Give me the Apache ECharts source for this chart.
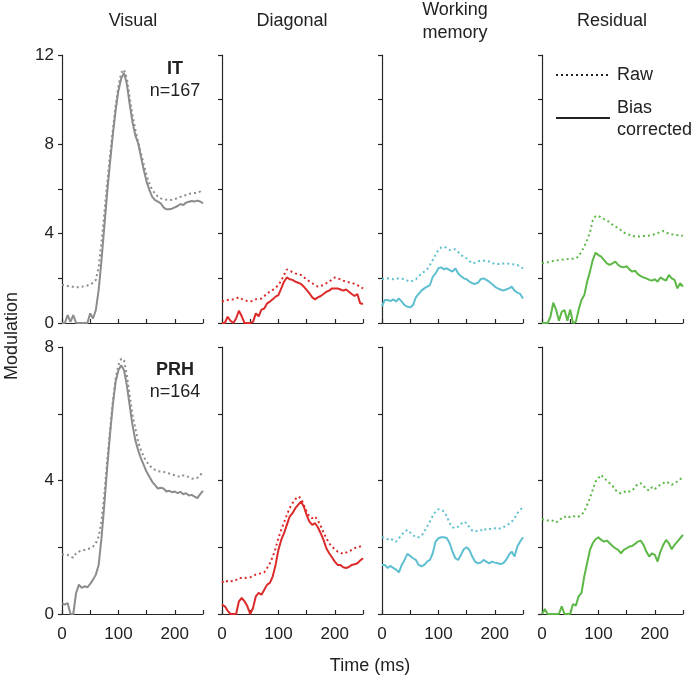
<!DOCTYPE html>
<html>
<head>
<meta charset="utf-8">
<script src="https://cdn.jsdelivr.net/npm/echarts@6/dist/echarts.min.js"></script>
<style>html,body{margin:0;padding:0;background:#fff}#c{width:694px;height:676px}</style>
</head>
<body>
<div id="c"></div>
<script>
// ---- data (time in ms, every 5 ms) ----
const T5 = Array.from({length: 51}, (_, i) => i * 5);
const panelTitles = ['Visual', 'Diagonal', 'Working\nmemory', 'Residual'];
const rowAreas = ['IT', 'PRH'];
const rowCounts = ['n=167', 'n=164'];
const rowYMax = [12, 8];
const xTickLabels = [0, 100, 200];

const itVisualRaw = [1.70,1.70,1.66,1.63,1.62,1.60,1.60,1.62,1.65,1.68,1.73,1.80,1.93,2.5,3.6,4.9,6.25,7.45,8.6,9.7,10.6,11.2,11.35,10.95,10.1,9.3,8.65,8.1,7.6,7.1,6.6,6.25,5.95,5.8,5.65,5.58,5.55,5.52,5.5,5.52,5.55,5.6,5.65,5.7,5.73,5.78,5.8,5.82,5.83,5.88,5.8];
const itVisualCor = [0,0,0.35,0.05,0.35,0,0,0,0,0,0.43,0.2,0.58,1.48,2.8,4.3,5.8,7.15,8.4,9.5,10.4,10.95,11.2,10.7,9.8,9.0,8.4,8.05,7.45,6.85,6.33,5.95,5.65,5.5,5.43,5.36,5.18,5.09,5.09,5.12,5.18,5.24,5.33,5.28,5.39,5.43,5.46,5.44,5.48,5.44,5.36];
const itDiagRaw = [0.96,1.0,1.03,1.05,1.06,1.1,1.15,1.08,1.03,0.98,0.96,1.0,1.06,1.08,1.1,1.2,1.33,1.4,1.48,1.58,1.7,1.9,2.15,2.4,2.34,2.28,2.22,2.18,2.15,2.05,1.96,1.86,1.78,1.7,1.63,1.66,1.7,1.78,1.85,1.95,2.04,2.0,1.96,1.9,1.85,1.82,1.8,1.75,1.7,1.62,1.55];
const itDiagCor = [0,0,0.28,0.1,0,0.2,0.55,0.3,0,0,0,0.05,0.43,0.3,0.6,0.65,0.88,0.96,1.06,1.18,1.25,1.55,1.85,2.04,1.96,1.93,1.85,1.8,1.75,1.63,1.48,1.33,1.15,1.06,1.15,1.21,1.3,1.4,1.45,1.55,1.55,1.55,1.5,1.45,1.5,1.4,1.3,1.21,1.3,0.88,0.85];
const itWmRaw = [1.96,1.98,2.0,1.98,1.96,1.98,2.0,1.98,1.96,1.9,1.85,1.9,1.96,2.08,2.22,2.3,2.4,2.6,2.82,3.05,3.27,3.38,3.42,3.35,3.27,3.28,3.3,3.18,3.04,2.98,2.9,2.78,2.67,2.7,2.75,2.8,2.79,2.78,2.75,2.7,2.64,2.64,2.64,2.66,2.67,2.65,2.64,2.62,2.6,2.52,2.45];
const itWmCor = [0.76,1.03,1.03,0.98,1.06,0.96,1.1,0.96,0.8,0.73,0.7,0.8,1.15,1.3,1.45,1.55,1.63,1.7,2.07,2.22,2.45,2.49,2.4,2.45,2.37,2.3,2.45,2.22,2.1,2.0,1.96,1.85,1.78,1.75,1.8,1.96,2.0,1.93,1.85,1.75,1.63,1.55,1.5,1.45,1.5,1.55,1.63,1.45,1.36,1.3,1.1];
const itResRaw = [2.67,2.7,2.72,2.75,2.78,2.8,2.82,2.83,2.85,2.86,2.87,2.88,2.9,2.97,3.2,3.42,3.72,4.05,4.6,4.78,4.8,4.72,4.65,4.6,4.5,4.4,4.32,4.25,4.15,4.05,4.0,3.95,3.9,3.87,3.87,3.88,3.9,3.9,3.92,3.95,3.97,4.02,4.08,4.12,4.05,4.0,3.97,3.95,3.93,3.93,3.9];
const itResCor = [0,0,0,0.28,0.91,0.6,0.1,0.5,0.58,0.1,0.6,0,0.05,0.6,1.03,1.25,1.85,2.3,2.82,3.15,3.04,2.97,2.82,2.67,2.6,2.67,2.75,2.6,2.52,2.49,2.55,2.4,2.3,2.34,2.19,2.1,2.04,2.0,1.93,1.9,1.96,1.85,2.04,1.96,1.9,2.15,2.0,1.93,1.55,1.78,1.63];

const prhVisualRaw = [1.79,1.78,1.77,1.72,1.69,1.82,1.87,1.9,1.92,1.94,1.97,2.02,2.12,2.32,2.77,3.57,4.56,5.46,6.35,7.05,7.45,7.65,7.6,7.15,6.55,5.96,5.56,5.16,4.91,4.71,4.56,4.46,4.36,4.32,4.28,4.27,4.26,4.23,4.21,4.18,4.16,4.13,4.11,4.15,4.14,4.1,4.06,4.05,4.08,4.16,4.26];
const prhVisualCor = [0.33,0.28,0.33,0,0,0.63,0.88,0.78,0.83,0.8,0.9,1.03,1.18,1.47,2.27,3.27,4.36,5.36,6.25,6.95,7.3,7.45,7.3,6.85,6.25,5.66,5.21,4.91,4.66,4.46,4.26,4.11,3.96,3.86,3.76,3.78,3.76,3.67,3.69,3.65,3.67,3.62,3.66,3.59,3.62,3.55,3.57,3.52,3.47,3.59,3.69];
const prhDiagRaw = [0.98,0.93,1.0,0.99,0.98,1.02,1.08,1.08,1.08,1.09,1.1,1.14,1.18,1.2,1.23,1.25,1.38,1.52,1.72,1.97,2.27,2.52,2.74,2.97,3.17,3.32,3.44,3.52,3.47,3.27,3.07,2.92,2.87,2.92,2.8,2.64,2.44,2.27,2.12,2.02,1.94,1.87,1.84,1.8,1.84,1.87,1.92,1.97,2.0,2.02,2.04];
const prhDiagCor = [0.28,0.23,0.1,0,0,0,0.38,0.48,0.38,0.23,0,0.18,0.53,0.63,0.58,0.73,0.88,0.93,1.13,1.47,1.92,2.22,2.42,2.67,2.92,3.02,3.17,3.27,3.37,3.22,2.97,2.77,2.67,2.72,2.6,2.42,2.22,1.97,1.82,1.7,1.57,1.47,1.47,1.4,1.38,1.41,1.47,1.49,1.52,1.6,1.67];
const prhWmRaw = [2.3,2.27,2.24,2.27,2.2,2.17,2.27,2.37,2.47,2.52,2.44,2.37,2.3,2.3,2.34,2.47,2.62,2.77,2.94,3.07,3.14,3.12,3.07,2.92,2.72,2.6,2.57,2.62,2.7,2.77,2.72,2.6,2.5,2.47,2.5,2.5,2.57,2.52,2.54,2.57,2.57,2.54,2.57,2.6,2.64,2.7,2.77,2.87,3.02,3.12,3.2];
const prhWmCor = [1.47,1.47,1.38,1.44,1.38,1.33,1.25,1.47,1.62,1.8,1.74,1.67,1.62,1.47,1.43,1.47,1.57,1.62,1.82,2.17,2.27,2.3,2.3,2.27,2.12,1.87,1.67,1.62,1.77,1.94,2.0,1.92,1.72,1.57,1.52,1.54,1.62,1.57,1.52,1.57,1.54,1.52,1.5,1.52,1.62,1.77,1.87,1.72,2.02,2.17,2.3];
const prhResRaw = [2.84,2.82,2.8,2.82,2.79,2.74,2.8,2.87,2.92,2.87,2.92,2.94,2.9,2.92,2.97,3.07,3.27,3.47,3.72,3.97,4.07,4.17,4.07,4.0,3.92,3.84,3.72,3.64,3.62,3.64,3.7,3.67,3.7,3.8,3.9,3.92,3.84,3.74,3.7,3.8,3.74,3.82,3.87,3.92,3.97,3.92,3.87,3.92,3.97,4.04,4.1];
const prhResCor = [0,0.15,0,0,0,0,0,0.23,0,0,0,0.3,0.25,0.53,0.63,1.13,1.52,1.92,2.12,2.24,2.3,2.22,2.17,2.2,2.12,2.04,1.97,1.92,1.82,1.92,1.97,2.02,2.04,2.1,2.17,2.2,2.07,1.87,1.72,1.82,1.77,1.57,1.87,2.07,2.22,2.12,1.94,2.07,2.17,2.27,2.37];

const panelColors = ['#8c8c8c', '#dc2a2a', '#5ebfd0', '#5db848'];
const rawData = [[itVisualRaw, itDiagRaw, itWmRaw, itResRaw], [prhVisualRaw, prhDiagRaw, prhWmRaw, prhResRaw]];
const corData = [[itVisualCor, itDiagCor, itWmCor, itResCor], [prhVisualCor, prhDiagCor, prhWmCor, prhResCor]];

// ---- layout ----
const FONT = 'Liberation Sans, Arial, Helvetica, sans-serif';
const colLeft = [62, 222, 382, 542];
const colW = 141;
const rowTop = [55, 347];
const rowH = [268, 267];
const axisColor = '#262626';

const grid = [], xAxis = [], yAxis = [], series = [];
for (let r = 0; r < 2; r++) {
  for (let c = 0; c < 4; c++) {
    const k = r * 4 + c;
    grid.push({left: colLeft[c], top: rowTop[r], width: colW, height: rowH[r], containLabel: false});
    xAxis.push({
      type: 'value', gridIndex: k, min: 0, max: 250, interval: 50,
      axisLine: {show: true, lineStyle: {color: axisColor, width: 1.2}},
      axisTick: {show: true, inside: true, length: 4, lineStyle: {color: axisColor, width: 1.2}},
      splitLine: {show: false},
      axisLabel: {show: r === 1, margin: 12, fontSize: 17, color: '#222', fontFamily: FONT,
        formatter: v => xTickLabels.indexOf(v) >= 0 ? String(v) : ''}
    });
    yAxis.push({
      type: 'value', gridIndex: k, min: 0, max: rowYMax[r], interval: 2,
      axisLine: {show: true, lineStyle: {color: axisColor, width: 1.2}},
      axisTick: {show: true, inside: false, length: 4, lineStyle: {color: axisColor, width: 1.2}},
      splitLine: {show: false},
      axisLabel: {show: c === 0, margin: 8, fontSize: 17, color: '#222', fontFamily: FONT,
        formatter: v => (v % 4 === 0 ? String(v) : '')}
    });
    series.push({
      type: 'line', xAxisIndex: k, yAxisIndex: k, showSymbol: false, silent: true,
      data: T5.map((t, i) => [t, rawData[r][c][i]]),
      lineStyle: {color: panelColors[c], width: 2, type: [2, 3]}
    });
    series.push({
      type: 'line', xAxisIndex: k, yAxisIndex: k, showSymbol: false, silent: true,
      data: T5.map((t, i) => [t, corData[r][c][i]]),
      lineStyle: {color: panelColors[c], width: 2}
    });
  }
}

const txt = (x, y, s, extra) => Object.assign({
  type: 'text', x: x, y: y,
  style: Object.assign({text: s, fill: '#222', font: '18px ' + FONT, textAlign: 'center', textVerticalAlign: 'middle'}, extra || {})
});

const graphic = [];
const titleCenters = [133, 292, 455, 612];
titleCenters.forEach((x, i) => {
  if (i === 2) {
    graphic.push(txt(x, 10, 'Working'));
    graphic.push(txt(x, 33, 'memory'));
  } else {
    graphic.push(txt(x, 21, panelTitles[i]));
  }
});
graphic.push(txt(175, 69, rowAreas[0], {font: 'bold 18px ' + FONT}));
graphic.push(txt(175, 91, rowCounts[0]));
graphic.push(txt(175, 370, rowAreas[1], {font: 'bold 18px ' + FONT}));
graphic.push(txt(175, 392, rowCounts[1]));
graphic.push(txt(370, 666, 'Time (ms)'));
graphic.push({type: 'text', x: 12, y: 336, rotation: Math.PI / 2,
  style: {text: 'Modulation', fill: '#222', font: '18px ' + FONT, textAlign: 'center', textVerticalAlign: 'middle'}});
// legend
graphic.push({type: 'line', shape: {x1: 556, y1: 75, x2: 609, y2: 75}, style: {stroke: '#222', lineWidth: 2, lineDash: [2, 3]}});
graphic.push(txt(617, 75, 'Raw', {textAlign: 'left'}));
graphic.push({type: 'line', shape: {x1: 556, y1: 118, x2: 610, y2: 118}, style: {stroke: '#222', lineWidth: 2}});
graphic.push(txt(617, 108, 'Bias', {textAlign: 'left'}));
graphic.push(txt(617, 130, 'corrected', {textAlign: 'left'}));

const chart = echarts.init(document.getElementById('c'), null, {renderer: 'canvas'});
chart.setOption({animation: false, backgroundColor: '#fff', grid, xAxis, yAxis, series, graphic});
</script>
</body>
</html>
